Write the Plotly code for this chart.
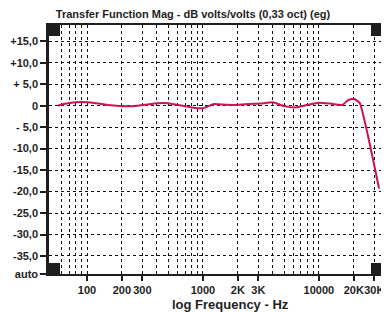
import plotly.graph_objects as go
import numpy as np

# Data
freq_hz = [56, 63, 80, 100, 125, 160, 200, 250, 315, 400, 500, 630, 800, 1000,
           1250, 1600, 2000, 2500, 3150, 4000, 5000, 6300, 8000, 10000, 12500,
           16000, 17800, 20000, 22500, 33000]
mag_db = [0.0, 0.4, 0.8, 0.8, 0.5, 0.1, -0.1, -0.1, 0.2, 0.6, 0.6, 0.1, -0.4, -0.6,
          0.4, 0.2, 0.2, 0.4, 0.5, 0.8, -0.1, -0.4, 0.2, 0.7, 0.5,
          0.2, 1.3, 1.6, 0.6, -19.3]

y_tick_vals = [15, 10, 5, 0, -5, -10, -15, -20, -25, -30, -35, -39.2]
y_tick_text = ["+15,0", "+10,0", "+ 5,0", "0", "- 5,0", "-10,0", "-15,0",
               "-20,0", "-25,0", "-30,0", "-35,0", "auto"]
x_tick_vals = [100, 200, 300, 1000, 2000, 3000, 10000, 20000, 30000]
x_tick_text = ["100", "200", "300", "1000", "2K", "3K", "10000", "20K", "30K"]
x_grid_vals = [60, 70, 80, 90, 400, 500, 600, 700, 800, 900,
               4000, 5000, 6000, 7000, 8000, 9000]

# page has an 8px body margin, so the figure is drawn 8px smaller
W, H = 381, 304
ML, MR, MT, MB = 41, 7, 17, 38
PW, PH = W - ML - MR, H - MT - MB

fig = go.Figure()
fig.add_trace(go.Scatter(x=freq_hz, y=mag_db, mode="lines",
                         line=dict(color="#d0124f", width=2, shape="spline", smoothing=0.4),
                         hoverinfo="skip"))

font_lbl = dict(family="Liberation Sans, Arial, sans-serif", size=11, color="#1e1e1e", weight="bold")

fig.update_layout(
    width=W, height=H,
    margin=dict(l=ML, r=MR, t=MT, b=MB, autoexpand=False),
    paper_bgcolor="white", plot_bgcolor="white",
    showlegend=False,
    title=dict(text="Transfer Function Mag - dB volts/volts (0,33 oct) (eg)",
               x=185 / W, xanchor="center", y=1 - 6.5 / H, yanchor="middle",
               font=dict(family="Liberation Sans, Arial, sans-serif", size=11,
                         color="#1e1e1e", weight="bold")),
    xaxis=dict(type="log", range=[np.log10(47), np.log10(35000)],
               tickvals=x_tick_vals, ticktext=x_tick_text, tickfont=font_lbl,
               tickangle=0, automargin=False,
               ticks="outside", ticklen=5, tickwidth=1.5, tickcolor="#1e1e1e",
               showgrid=True, gridcolor="#111", gridwidth=1, griddash="3px,3px",
               minor=dict(tickvals=x_grid_vals, showgrid=True, gridcolor="#111",
                          gridwidth=1, griddash="3px,3px", ticks=""),
               showline=True, linecolor="#1e1e1e", linewidth=2, mirror=True,
               zeroline=False, fixedrange=True),
    yaxis=dict(range=[-39.2, 18.8], tickvals=y_tick_vals, ticktext=y_tick_text,
               tickfont=font_lbl, ticks="outside", ticklen=6, tickwidth=1.5,
               tickcolor="#1e1e1e", automargin=False,
               showgrid=True, gridcolor="#111", gridwidth=1, griddash="3px,3px",
               showline=True, linecolor="#1e1e1e", linewidth=2.5, mirror=True,
               zeroline=False, fixedrange=True),
)

# corner markers (small filled squares)
sx, sy = 11 / PW, 11 / PH
for (x0, y0) in [(0, 1 - sy), (1 - sx, 1 - sy), (0, 0), (1 - sx, 0)]:
    fig.add_shape(type="rect", xref="paper", yref="paper", x0=x0, x1=x0 + sx,
                  y0=y0, y1=y0 + sy, fillcolor="#1e1e1e", line=dict(width=0))

fig.add_annotation(text="log Frequency - Hz", xref="paper", yref="paper",
                   x=(222 - ML) / PW, y=-(296 - (MT + PH)) / PH,
                   xanchor="center", yanchor="middle", showarrow=False,
                   font=dict(family="Liberation Sans, Arial, sans-serif", size=13,
                             color="#1e1e1e", weight="bold"))

fig.write_html("out.html")
